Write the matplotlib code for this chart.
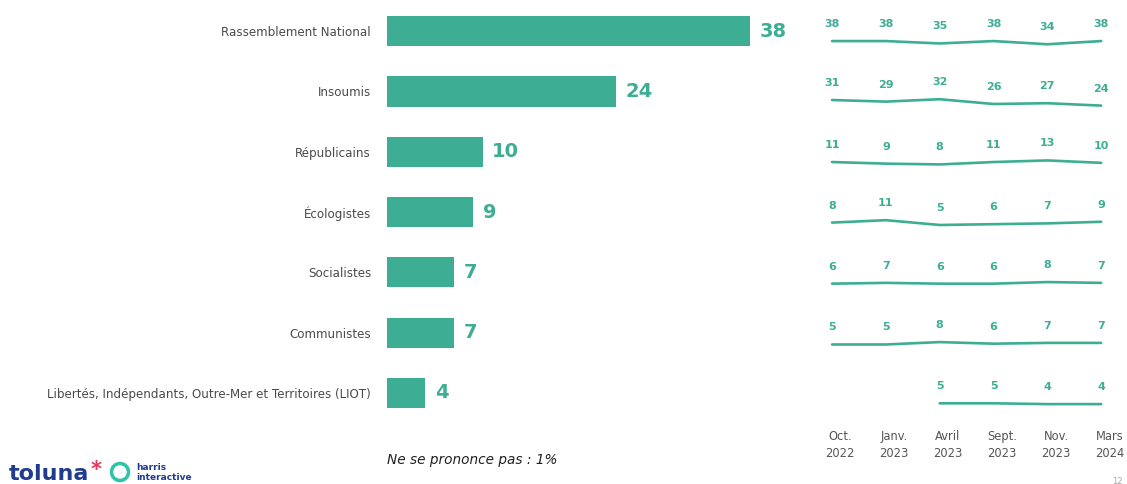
import matplotlib
matplotlib.use("Agg")
import matplotlib.pyplot as plt
import matplotlib.patches as mpatches
import numpy as np

# data
parties = ["Rassemblement National", "Insoumis", "Républicains", "Écologistes",
           "Socialistes", "Communistes",
           "Libertés, Indépendants, Outre-Mer et Territoires (LIOT)"]
current = [38, 24, 10, 9, 7, 7, 4]

waves = ["Oct.\n2022", "Janv.\n2023", "Avril\n2023", "Sept.\n2023", "Nov.\n2023", "Mars\n2024"]
trend_rn = [38, 38, 35, 38, 34, 38]
trend_lfi = [31, 29, 32, 26, 27, 24]
trend_lr = [11, 9, 8, 11, 13, 10]
trend_eco = [8, 11, 5, 6, 7, 9]
trend_ps = [6, 7, 6, 6, 8, 7]
trend_pc = [5, 5, 8, 6, 7, 7]
trend_liot = [None, None, 5, 5, 4, 4]
trends = [trend_rn, trend_lfi, trend_lr, trend_eco, trend_ps, trend_pc, trend_liot]

green = "#3DAE93"
W, H = 1127, 484

fig = plt.figure(figsize=(W / 100, H / 100), dpi=100)

# bar panel
ax = fig.add_axes([387 / W, (H - 423) / H, 382 / W, 422 / H])
y = np.arange(len(parties))
ax.barh(y, current, height=0.5, color=green)
for yi, v in zip(y, current):
    ax.text(v + 1.0, yi, str(v), va="center", ha="left", fontsize=14,
            fontweight="bold", color=green)
ax.set_xlim(0, 40)
ax.set_ylim(6.5, -0.5)
ax.set_yticks(y)
ax.set_yticklabels(parties, fontsize=8.6, color="#4a4a4a")
ax.tick_params(axis="y", length=0, pad=11.5)
ax.set_xticks([])
for s in ax.spines.values():
    s.set_visible(False)

# trend panel
ax2 = fig.add_axes([810 / W, (H - 423) / H, 317 / W, 422 / H])
ax2.set_xlim(-0.41, 5.48)
ax2.set_ylim(6.5, -0.5)
ax2.axis("off")
row_px = 60.3
for i, tr in enumerate(trends):
    xs = [j for j, v in enumerate(tr) if v is not None]
    vs = [v for v in tr if v is not None]
    m = np.mean(vs)
    ys = [i + 0.18 + (m - v) * 0.8 / row_px for v in vs]
    ax2.plot(xs, ys, color=green, lw=1.9, solid_capstyle="round")
    for xj, yj, v in zip(xs, ys, vs):
        ax2.text(xj, yj - 17 / row_px, str(v), ha="center", va="center",
                 fontsize=8, fontweight="bold", color=green)

# wave labels
for j, lab in enumerate(waves):
    fig.text((832 + 8 + 54 * j) / W, 1 - 445 / H, lab, ha="center", va="center",
             fontsize=8.3, color="#555555", linespacing=1.35)

# footnote
fig.text(387 / W, 1 - 460 / H, "Ne se prononce pas : 1%", fontsize=9.8,
         style="italic", color="#222222", va="center")

# logo
fig.text(9 / W, 1 - 474 / H, "toluna", fontsize=16, color="#1F3C8F",
         va="center", fontweight="bold")
fig.text(91 / W, 1 - 470 / H, "*", fontsize=15, color="#E8385A", va="center",
         fontweight="bold")
ring = mpatches.Ellipse((120 / W, 1 - 472 / H), 17 / W, 17 / H,
                        transform=fig.transFigure, fill=False,
                        edgecolor="#2EC4A6", lw=2.5)
fig.add_artist(ring)
fig.text(136 / W, 1 - 467 / H, "harris", fontsize=6.5, color="#1F3C8F",
         va="center", fontweight="bold")
fig.text(136 / W, 1 - 478 / H, "interactive", fontsize=6.5, color="#1F3C8F",
         va="center", fontweight="bold")

# page number
fig.text(1112 / W, 1 - 481 / H, "12", fontsize=6, color="#aaaaaa", va="center")

fig.savefig("out.png", dpi=100, facecolor="white")
